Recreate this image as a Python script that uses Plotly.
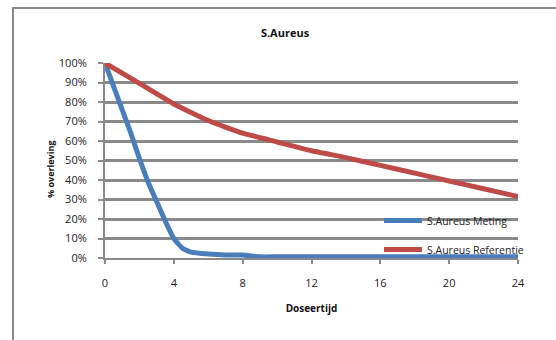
import plotly.graph_objects as go

# Data
meting_x = [0, 1, 1.5, 2, 2.5, 3, 3.5, 4, 4.5, 5, 6, 7, 8, 9, 10, 12, 16, 20, 24]
meting_y = [1.00, 0.76, 0.64, 0.51, 0.39, 0.29, 0.19, 0.10, 0.05, 0.03, 0.02, 0.015, 0.015, 0.006, 0.006, 0.006, 0.006, 0.006, 0.006]
ref_x = [0, 2, 4, 6, 8, 10, 12, 14, 16, 18, 20, 22, 24]
ref_y = [1.00, 0.895, 0.79, 0.705, 0.64, 0.595, 0.55, 0.515, 0.475, 0.435, 0.395, 0.355, 0.315]
x_ticks = [0, 4, 8, 12, 16, 20, 24]
y_ticks = [0, 0.1, 0.2, 0.3, 0.4, 0.5, 0.6, 0.7, 0.8, 0.9, 1.0]

FONT = "Open Sans"
GRID = "#8a8a8a"

fig = go.Figure()
fig.add_trace(go.Scatter(x=meting_x, y=meting_y, mode="lines", name="S.Aureus Meting",
                         legendgroup="a",
                         line=dict(color="#4a7ebb", width=5, shape="spline", smoothing=0.4)))
fig.add_trace(go.Scatter(x=ref_x, y=ref_y, mode="lines", name="S.Aureus Referentie",
                         legendgroup="b",
                         line=dict(color="#be4b48", width=5, shape="spline", smoothing=0.4)))

L, R, T, B = 105, 38, 63, 82
W, H = 556, 340
pw, ph = W - L - R, H - T - B

def px2paper_x(px):
    return (px - L) / pw

def px2paper_y(py):
    return (H - B - py) / ph

fig.update_layout(
    width=W, height=H,
    margin=dict(l=L, r=R, t=T, b=B),
    paper_bgcolor="white", plot_bgcolor="white",
    font=dict(family=FONT, size=10, color="#222"),
    title=dict(text="<b>S.Aureus</b>", x=285 / W, xanchor="center",
               y=1 - 33 / H, yanchor="middle", font=dict(size=11, family=FONT, color="#111")),
    showlegend=True,
    legend=dict(x=px2paper_x(379), y=px2paper_y(206), xanchor="left", yanchor="top",
                bgcolor="rgba(0,0,0,0)", font=dict(size=10.5, family=FONT, color="#222"),
                itemwidth=38, tracegroupgap=10),
    xaxis=dict(range=[0, 24], tickvals=x_ticks, ticktext=[str(v) for v in x_ticks],
               showgrid=False, zeroline=False, showline=True, linecolor=GRID, linewidth=2,
               ticks="outside", ticklen=4, tickwidth=2, tickcolor=GRID, ticklabelstandoff=10,
               tickfont=dict(size=11, family=FONT, color="#222"),
               title=dict(text="<b>Doseertijd</b>", font=dict(size=10, family=FONT, color="#111"), standoff=16)),
    yaxis=dict(range=[0, 1], tickvals=y_ticks, tickformat=".0%",
               showgrid=True, gridcolor=GRID, gridwidth=2.5, zeroline=False,
               showline=True, linecolor=GRID, linewidth=2,
               ticks="outside", ticklen=5, tickwidth=2, tickcolor=GRID, ticklabelstandoff=9,
               tickfont=dict(size=11, family=FONT, color="#222")),
)

# y-axis title
fig.add_annotation(text="<b>% overleving</b>", textangle=-90, xref="paper", yref="paper",
                   x=px2paper_x(50), y=px2paper_y(170), xanchor="center", yanchor="middle",
                   showarrow=False, font=dict(size=9, family=FONT, color="#111"))

# outer chart border
fig.add_shape(type="rect", xref="paper", yref="paper",
              x0=px2paper_x(13), x1=px2paper_x(620), y0=px2paper_y(400), y1=px2paper_y(8),
              line=dict(color="#8a8a8a", width=2), fillcolor="rgba(0,0,0,0)", layer="below")

fig.write_html("out.html")
